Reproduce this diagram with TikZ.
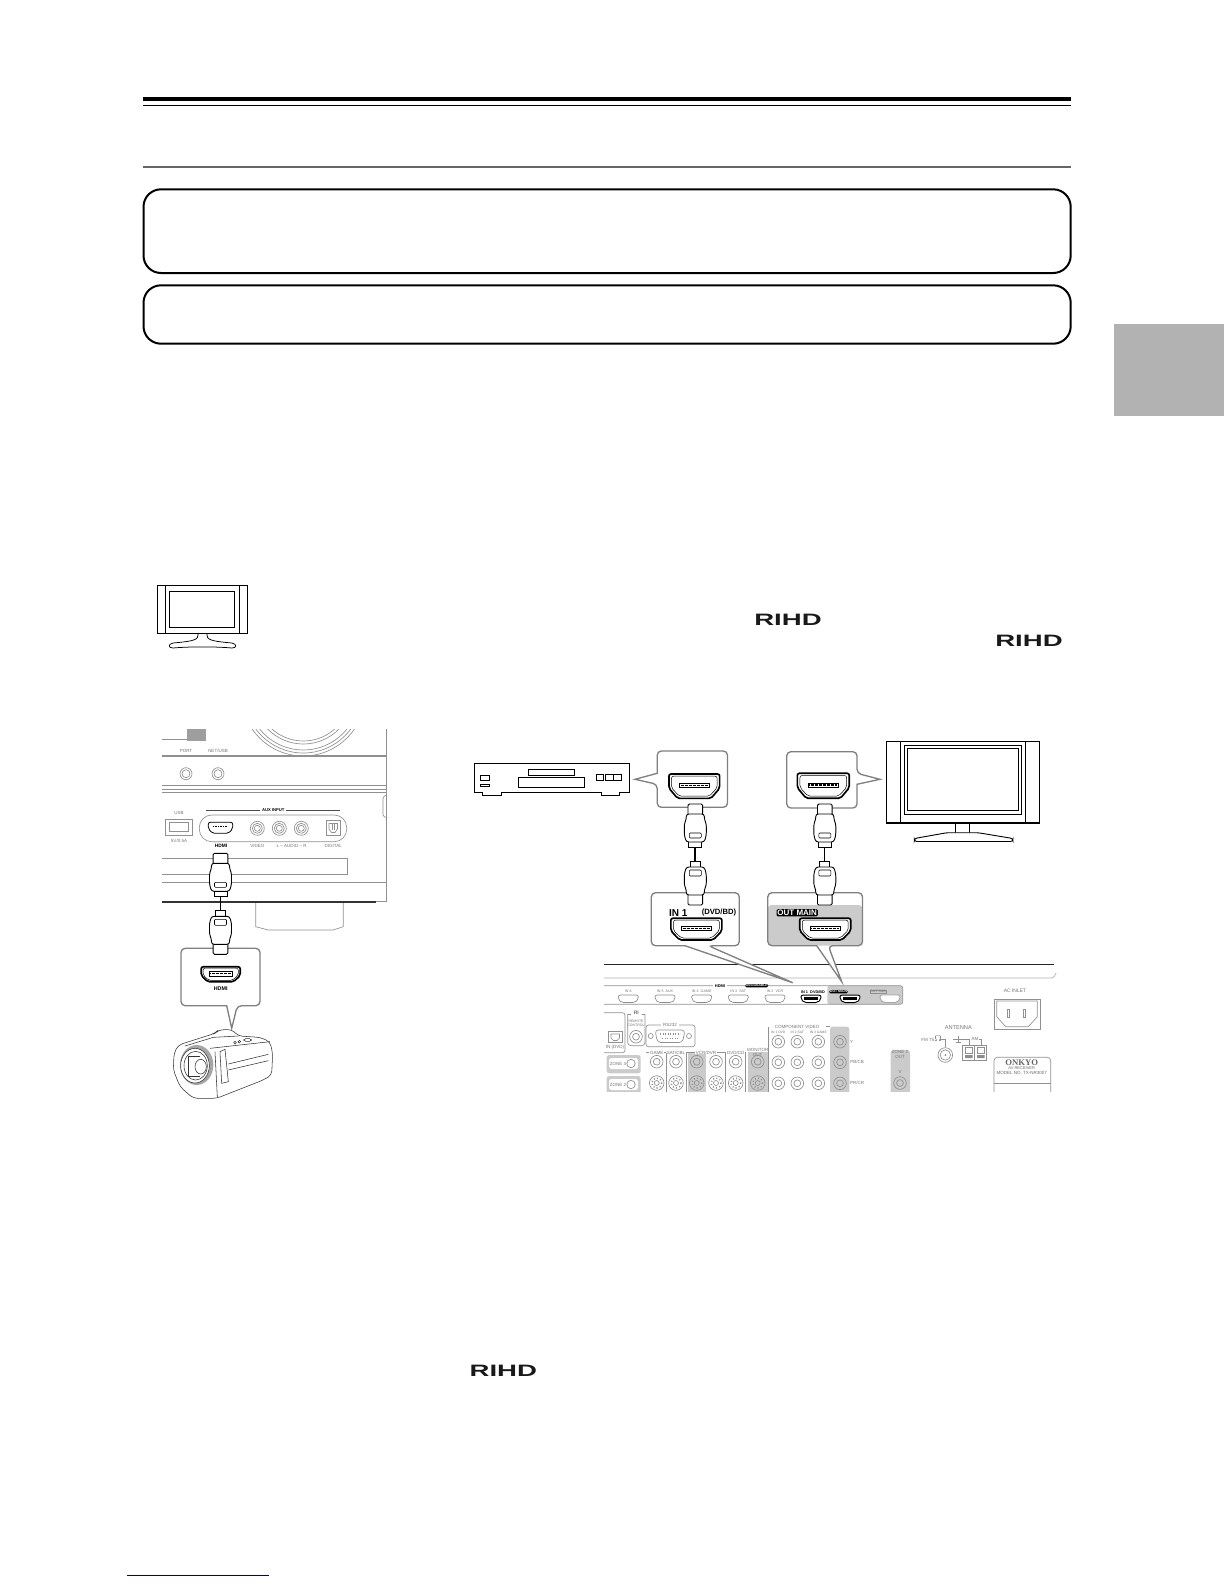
\documentclass[tikz,border=0pt]{standalone}
\usepackage{fontspec}
\setmainfont{Liberation Sans}
\newfontfamily\onkyofont{Liberation Serif}
\usetikzlibrary{positioning}
\definecolor{tabgray}{HTML}{B2B2B2}
\definecolor{rulegray}{HTML}{666666}
\definecolor{boxgray}{HTML}{808080}
\definecolor{panelgray}{HTML}{909090}
\definecolor{shadegray}{HTML}{CBCBCB}
\definecolor{linkblue}{HTML}{000080}
\tikzset{
    framebox/.style = {draw=black,line width=1.2pt,rounded corners=10.5pt},
    callout/.style = {draw=boxgray,line width=.8pt,fill=white},
    device/.style = {draw=black,line width=.55pt,fill=white},
    devicethin/.style = {draw=black,line width=.35pt},
    panel/.style = {draw=panelgray,line width=.4pt},
    paneldark/.style = {draw=black!70,line width=.45pt},
    cameraline/.style = {draw=black!80,line width=.33pt},
    cableline/.style = {draw=black,line width=.55pt,fill=white},
    tinylabel/.style = {inner sep=0pt,text=black!55,font=\fontsize{2.7}{3}\selectfont,align=center},
    darklabel/.style = {inner sep=0pt,text=black,font=\bfseries\fontsize{2.9}{3}\selectfont},
    reversed/.style = {inner sep=.5pt,fill=black,text=white,rounded corners=.8pt,font=\bfseries\fontsize{2.7}{3}\selectfont},
    logotext/.style = {inner sep=0pt,text=black!90,font=\bfseries\fontsize{9.9}{10}\selectfont}
}
\newcommand{\rihdtext}{\scalebox{1.67}[1]{RIHD}}
% socket outline, centred at #1,#2, #3 wide and #4 high
\newcommand{\portshape}[5]{\draw[#5,rounded corners=1.2pt,shift={(#1,#2)},xscale=#3,yscale=#4] (-.5,-.5) -- (.5,-.5) -- (.5,.08) -- (.33,.5) -- (-.33,.5) -- (-.5,.08) -- cycle;}
\newcommand{\hdmisocket}[4]{%
\portshape{#1}{#2}{#3}{#4}{draw=black,line width=1pt,fill=white}
\portshape{#1}{#2}{#3*.9}{#4*.82}{draw=black,line width=.3pt}
\draw[line width=.3pt] (#1-.29*#3,#2-2.9) rectangle (#1+.29*#3,#2+1.5);
\draw[line width=.9pt,dash pattern=on .3pt off .5pt] (#1-.27*#3,#2-.7) -- (#1+.27*#3,#2-.7);
}
% plug, cord and plug, from the top of the upper plug
\newcommand{\hdmicable}[3]{%
\begin{scope}[shift={(#1,#2)}]
\draw[line width=#3] (0,43) -- (0,57);
\draw[cableline,rounded corners=.8pt] (-7.3,11) -- (-7.3,0) -- (7.3,0) -- (7.3,11);
\draw[cableline] (-6.5,36) rectangle (6.5,43);
\draw[cableline,rounded corners=1.5pt] (-9,10) -- (-9,15) -- (-11,20) -- (-11,31) -- (-9,38) -- (9,38) -- (11,31) -- (11,20) -- (9,15) -- (9,10) -- cycle;
\draw[cableline,line width=.35pt,rounded corners=.6pt] (-6,29) rectangle (6,34);
\draw[cableline,rounded corners=.8pt] (-7.3,90) -- (-7.3,101) -- (7.3,101) -- (7.3,90);
\draw[cableline] (-5,57) rectangle (5,64);
\draw[cableline,rounded corners=1.5pt] (-9,63) -- (-11,70) -- (-11,81) -- (-9,86) -- (-9,91) -- (9,91) -- (9,86) -- (11,81) -- (11,70) -- (9,63) -- cycle;
\draw[cableline,line width=.35pt,rounded corners=.6pt] (-6,66) rectangle (6,72);
\end{scope}
}
\newcommand{\rearjack}[2]{\draw[panel] (#1,#2) circle (6.3) (#1,#2) circle (3.4);}
\begin{document}
\begin{tikzpicture}[x=.6pt,y=-.6pt]
\useasboundingbox (0,0) rectangle (1224,1584);
% page rules, frames and tab
\fill[black] (143,97) rectangle (1071,101);
\draw[line width=.6pt] (143,105.3) -- (1071,105.3);
\draw[rulegray,line width=1.1pt] (143,166.7) -- (1071,166.7);
\draw[framebox] (143.5,189.3) rectangle (1070.7,273);
\draw[framebox] (143.5,285.3) rectangle (1070.7,343.7);
\fill[tabgray] (1114,324) rectangle (1224,415.7);
\draw[linkblue,line width=.6pt] (127,1575.3) -- (269,1575.3);
% small screen
\draw[devicethin,line width=.45pt] (157.3,585.3) rectangle (247,633.3);
\draw[devicethin,line width=.45pt] (165.3,585.3) -- (165.3,633.3) (239.3,585.3) -- (239.3,633.3);
\draw[devicethin,line width=.45pt] (169.3,591.7) rectangle (234.3,627.3);
\draw[devicethin,line width=.45pt] (198.3,633.3) .. controls (198.3,640) and (195,641) .. (173,643) .. controls (168,644) and (168,648) .. (173,648) .. controls (190,646.5) and (215,646.5) .. (232,648) .. controls (237,648) and (237,644) .. (232,643) .. controls (210,641) and (206.7,640) .. (206.7,633.3);
% logos
\node[logotext] at (788,620) (logoa) {\rihdtext};
\node[logotext] at (1029,641) (logob) {\rihdtext};
\node[logotext] at (503.3,1371.2) (logoc) {\rihdtext};
% front of the receiver
\begin{scope}
\clip (230,729) rectangle (380,756);
\foreach \r in {62,59,56,50,47} {\draw[panel] (303.3,694) circle (\r);}
\end{scope}
\draw[panel,line width=.8pt] (162,739.3) -- (187,739.3);
\fill[black!38] (187.3,729.3) rectangle (206,740.7);
\draw[panel] (386.7,729) -- (386.7,901.7);
\draw[panel,line width=.8pt] (162,756) -- (386.7,756);
\node[tinylabel] at (186,751) (portlabel) {PORT};
\node[tinylabel] at (218,751) (netlabel) {NET/USB};
\foreach \px in {186,218} {\draw[panel] (\px,773.7) circle (6) (\px,773.7) circle (4);}
\foreach \py in {785.7,789.3,792.7} {\draw[panel] (162,\py) -- (386.7,\py);}
\draw[panel] (386.7,795) -- (384.5,796) -- (383,798) -- (383,815) -- (384.5,817) -- (386.7,817.5);
\draw[paneldark] (206,810) -- (340,810);
\node[darklabel,fill=white,inner xsep=1pt,font=\bfseries\fontsize{2.5}{3}\selectfont] at (273.3,810) (auxlabel) {AUX INPUT};
\node[tinylabel] at (179,813) (usblabel) {USB};
\node[tinylabel] at (179,840.7) (usbpower) {5V/0.5A};
\draw[panel] (165,819.3) rectangle (192.3,835);
\draw[panel] (169.3,822.7) rectangle (188.3,831.7);
\draw[panel,rounded corners=7.5pt] (199.3,815) rectangle (346.7,841.7);
\portshape{220.5}{827.8}{24.4}{11}{draw=black,line width=.5pt,fill=white}
\draw[line width=.8pt,dash pattern=on .5pt off .5pt] (213,826.5) -- (228,826.5);
\foreach \px in {257.3,279.3,301.3} {\draw[panel] (\px,828.3) circle (7) (\px,828.3) circle (5) (\px,828.3) circle (3);}
\draw[panel] (326,820.7) rectangle (340.7,835);
\draw[panel] (329,823.5) -- (337.5,823.5) -- (337.5,829) -- (335,832.5) -- (331.5,832.5) -- (329,829) -- cycle;
\draw[panel] (332,824) -- (332,830) (334.5,824) -- (334.5,830);
\node[darklabel] at (221,846.3) (hdmilabel) {HDMI};
\node[tinylabel] at (257.3,846.3) (videolabel) {VIDEO};
\node[tinylabel] at (291.7,846.3) (audiolabel) {L -- AUDIO -- R};
\node[tinylabel] at (333.3,846.3) (digitallabel) {DIGITAL};
\draw[panel] (162,858.3) -- (347.7,858.3) -- (347.7,874.3) -- (162,874.3);
\draw[panel] (162,882.3) -- (386.7,882.3);
\draw[panel] (255.7,901.7) -- (255.7,926.7) -- (268.3,930) -- (333,930) -- (343.3,926.7) -- (343.3,901.7);
\draw[panel] (375.7,901.7) -- (386.7,901.7);
\draw[black!80,line width=1.1pt] (162,901.7) -- (375.7,901.7);
% camera side
\draw[callout,rounded corners=2.5pt] (181,948.3) -- (260,948.3) -- (260,1005.7) -- (237.3,1005.7) [sharp corners] -- (231.7,1028.3) -- (226.7,1005.7) [rounded corners=2.5pt] -- (181,1005.7) -- cycle;
\hdmisocket{220.7}{974.3}{39}{15}
\node[darklabel,font=\bfseries\fontsize{3.2}{3.5}\selectfont] at (220.7,988.7) (camhdmi) {HDMI};
\hdmicable{220.5}{853.3}{1.1pt}
% camera
\begin{scope}[shift={(160,1020)},x=.2pt,y=-.2pt]
\draw[cameraline,fill=white,rounded corners=2.5pt] (55,75) -- (165,40) -- (175,30) -- (215,28) -- (235,48) -- (300,52) -- (330,65) -- (338,100) -- (335,165) -- (310,180) -- (195,225) -- (170,235) -- (100,235) -- (60,200) -- (40,150) -- (42,100) -- cycle;
\draw[cameraline] (160,52) -- (235,48) (75,78) -- (160,52) (150,85) -- (330,65) (165,95) -- (172,232);
\draw[cameraline] (180,95) -- (195,88) -- (205,185) -- (185,190) -- cycle;
\draw[cameraline] (205,132) -- (325,103) (205,150) -- (325,122);
\draw[cameraline] (225,68) circle (4) (238,65) circle (4);
\draw[cameraline,rounded corners=1pt] (252,56) rectangle (274,64);
\fill[black!35] (110,135) ellipse (50 and 60);
\draw[cameraline,fill=white] (105,137) ellipse (43 and 52);
\draw[cameraline] (107,137) ellipse (35 and 43);
\draw[cameraline] (84,110) -- (120,110) (84,170) -- (120,170) (84,110) -- (84,170);
\draw[cameraline,fill=white] (122,140) ellipse (17 and 22);
\end{scope}
% disc player
\draw[device,line width=.75pt] (474.8,763.3) rectangle (629.4,792.3);
\draw[device] (482.2,792.3) -- (482.2,795.3) -- (501.4,795.3) -- (501.4,792.3);
\draw[device] (601.3,792.3) -- (601.3,795.3) -- (619.8,795.3) -- (619.8,792.3);
\draw[devicethin] (480.3,775) rectangle (489.6,780);
\draw[devicethin] (480.3,784) rectangle (489.6,786.7);
\draw[devicethin] (528.4,769.3) rectangle (574.7,775);
\draw[devicethin] (518.5,777.3) rectangle (584.7,787.7);
\draw[devicethin] (595.8,774.3) rectangle (603.2,780);
\draw[devicethin] (605.4,774.3) rectangle (621.7,780);
\draw[devicethin] (613.5,774.3) -- (613.5,780);
\draw[callout,rounded corners=2.5pt] (692,751) -- (727.5,751) -- (727.5,807.3) -- (657.2,807.3) -- (657.2,784.3) [sharp corners] -- (635,779.3) -- (657.2,773.3) [rounded corners=2.5pt] -- (657.2,751) -- cycle;
\hdmisocket{694.3}{786.2}{50.7}{24.3}
% television
\draw[device] (886.6,741.7) rectangle (1039.4,823);
\draw[black,line width=.9pt] (886.6,823) -- (1039.4,823);
\draw[devicethin,line width=.45pt] (900.3,741.7) -- (900.3,823) (1025.3,741.7) -- (1025.3,823);
\draw[devicethin,line width=.45pt] (904.7,745) rectangle (1021.6,814);
\draw[devicethin,line width=.45pt] (907.7,748.3) rectangle (1018.6,810.7);
\draw[devicethin,line width=.5pt] (955.8,823) -- (955.8,832.7) (969.4,823) -- (969.4,832.7);
\draw[device,rounded corners=1.5pt] (947,832.7) -- (978,832.7) -- (1013,838.5) -- (1013,841.5) -- (914.3,841.5) -- (914.3,838.5) -- cycle;
\draw[callout,rounded corners=2.5pt] (786.7,751.7) -- (857,751.7) -- (857,773.3) [sharp corners] -- (879.9,779.3) -- (857,784.3) [rounded corners=2.5pt] -- (857,808) -- (786.7,808) -- cycle;
\hdmisocket{823.3}{785.8}{51.8}{25}
% rear edge of the receiver
\draw[black!85,line width=.6pt] (604,964.3) -- (1054,964.3);
\draw[black!30,line width=.4pt] (604,978) -- (1052,978) .. controls (1054,978) and (1055,975) .. (1056,973);
% input callout
\draw[callout,rounded corners=2.5pt] (651.3,892.7) -- (739.3,892.7) -- (739.3,945.7) -- (708.3,945.7) [sharp corners] -- (792.7,982.7) -- (685,945.7) [rounded corners=2.5pt] -- (651.3,945.7) -- cycle;
\node[inner sep=0pt,font=\bfseries\fontsize{6}{7}\selectfont] at (678.3,912.7) (inlabel) {IN 1};
\node[inner sep=0pt,font=\bfseries\fontsize{4.6}{5}\selectfont] at (719,912.7) (dvdlabel) {(DVD/BD)};
\hdmisocket{696.4}{929.1}{51}{21.7}
% output callout
\fill[white] (767.8,892.7) -- (862.5,892.7) -- (862.5,945.7) -- (828.3,945.7) -- (841.7,981.7) -- (816.7,945.7) -- (767.8,945.7) -- cycle;
\fill[shadegray,rounded corners=2pt] (768,905) rectangle (862.3,945.5);
\draw[callout,fill=none,rounded corners=2.5pt] (767.8,892.7) -- (862.5,892.7) -- (862.5,945.7) -- (828.3,945.7) [sharp corners] -- (841.7,981.7) -- (816.7,945.7) [rounded corners=2.5pt] -- (767.8,945.7) -- cycle;
\node[reversed,font=\bfseries\fontsize{4.8}{5}\selectfont] at (797.2,912.8) (outlabel) {OUT MAIN};
\hdmisocket{825.2}{929.1}{51}{21.7}
\hdmicable{695.3}{804}{1.1pt}
\hdmicable{824.8}{804}{.8pt}
% HDMI strip
\fill[shadegray,rounded corners=1.5pt] (827.3,985.7) rectangle (902.7,1004.3);
\draw[panel,rounded corners=1.5pt] (604,985.7) -- (902.7,985.7) -- (902.7,1004.3) -- (604,1004.3);
\node[darklabel,fill=white,inner xsep=1pt,font=\bfseries\fontsize{2.4}{3}\selectfont] at (720,985.7) (striphdmi) {HDMI};
\node[reversed,inner sep=.3pt,font=\bfseries\fontsize{2}{3}\selectfont] at (756.7,985.7) (stripassign) {ASSIGNABLE};
\foreach \px/\ptxt/\pname in {628.3/IN 6/a,665/IN 5\ \ AUX/b,701.7/IN 4\ \ GAME/c,738.3/IN 3\ \ SAT/d,775/IN 2\ \ VCR/e} {
\portshape{\px}{998.8}{20}{7.5}{draw=black!45,line width=.4pt,fill=white}
\node[tinylabel,font=\fontsize{2.2}{3}\selectfont] at (\px,991.7) (strip\pname) {\ptxt};
}
\node[darklabel,font=\bfseries\fontsize{2.3}{3}\selectfont] at (813,991.7) (stripin) {IN 1\ \ DVD/BD};
\node[reversed,inner sep=.3pt,font=\bfseries\fontsize{2.1}{3}\selectfont] at (838.5,991.7) (stripout) {OUT MAIN};
\node[tinylabel,font=\fontsize{2.1}{3}\selectfont,draw=panelgray,line width=.2pt,inner sep=.3pt,text=black!55] at (878,991.7) (stripsub) {OUT SUB};
\foreach \px in {811,850} {
\portshape{\px}{998.8}{20}{7.5}{draw=black,line width=.55pt,fill=white}
\fill[black] (\px-7,997) rectangle (\px+7,1000);
}
\portshape{890}{998.8}{20}{7.5}{draw=black!35,line width=.5pt,fill=white}
% mains inlet
\node[tinylabel,font=\fontsize{3}{3.5}\selectfont] at (1015,990.7) (aclabel) {AC INLET};
\draw[panel,line width=.5pt] (994,999.3) rectangle (1040,1029.3);
\draw[panel] (996.7,1001) -- (1037.3,1001) -- (1037.3,1016.7) -- (1028.3,1026.7) -- (1005.7,1026.7) -- (996.7,1016.7) -- cycle;
\draw[panel] (1007,1009.3) rectangle (1009,1017.3) (1023,1009.3) rectangle (1025,1017.3);
% rear connectors
\begin{scope}
\clip (604,1005) rectangle (1060,1091.7);
\fill[shadegray,rounded corners=1.5pt] (606.7,1055) rectangle (640.7,1073.3);
\fill[shadegray,rounded corners=1.5pt] (606.7,1076) rectangle (640.7,1095);
\fill[shadegray] (687.7,1052) rectangle (706,1095);
\fill[shadegray] (748.3,1052) rectangle (767.7,1095);
\fill[shadegray,rounded corners=1.5pt] (830,1026.7) rectangle (849.3,1095);
\fill[shadegray,rounded corners=1.5pt] (890.7,1050) rectangle (910,1095);
\fill[white,rounded corners=1.5pt] (609,1058) rectangle (638,1069);
\fill[white,rounded corners=1.5pt] (609,1079) rectangle (638,1090);
\draw[panel,rounded corners=1.5pt] (604,1012.7) -- (625,1012.7) -- (625,1052.7) -- (604,1052.7);
\draw[panel] (608.3,1031.7) rectangle (622.3,1042.3);
\draw[panel] (611,1034) -- (619.5,1034) -- (619.5,1038) -- (617,1040.5) -- (613.5,1040.5) -- (611,1038) -- cycle;
\node[tinylabel] at (615,1047) (optlabel) {IN (DVD)};
\draw[panel,rounded corners=2pt] (627.7,1014) -- (627.7,1045.7) -- (645,1045.7) -- (645,1014);
\draw[panel] (627.7,1014) -- (631,1014) (641.5,1014) -- (645,1014);
\node[tinylabel,font=\bfseries\fontsize{3}{3}\selectfont] at (636.3,1013) (rilabel) {RI};
\node[tinylabel,font=\fontsize{2.1}{2.4}\selectfont] at (636,1023) (rilabelb) {REMOTE\\CONTROL};
\rearjack{636}{1036.7}
\draw[panel,rounded corners=1.5pt] (646,1025) rectangle (695,1046.7);
\node[tinylabel,fill=white,inner xsep=1pt] at (670,1025) (rslabel) {RS232};
\draw[panel,rounded corners=2pt] (655,1030) -- (685,1030) -- (682.5,1042.5) -- (657.5,1042.5) -- cycle;
\draw[panel,line width=.9pt,dash pattern=on .5pt off 1pt] (660,1034) -- (680,1034) (662,1038.5) -- (678,1038.5);
\draw[panel] (650.7,1036) circle (2.5) (689,1036) circle (2.5);
\draw[panel] (646,1052.5) -- (746,1052.5);
\node[tinylabel,fill=white,inner xsep=.5pt] at (656.7,1052.5) (gamelabel) {GAME};
\node[tinylabel,fill=white,inner xsep=.5pt] at (676,1052.5) (satlabel) {SAT/CBL};
\node[tinylabel,fill=white,inner xsep=.5pt] at (706,1052.5) (vcrlabel) {VCR/DVR};
\node[tinylabel,fill=white,inner xsep=.5pt] at (735.7,1052.5) (dvdjacks) {DVD/CD};
\node[tinylabel] at (757.7,1052) (monlabel) {MONITOR\\OUT};
\foreach \px in {666.3,686,725,745} {\draw[panel] (\px,1052.5) -- (\px,1095);}
\foreach \px in {656.7,676,696.7,716,735.7,757.7} {
\rearjack{\px}{1061.7}
\draw[panel] (\px,1083) circle (7.3) (\px,1083) circle (2.5);
\draw[panel,line width=.9pt,dash pattern=on .6pt off 1.4pt] (\px,1083) circle (5);
}
\node[tinylabel] at (618,1063.5) (zonea) {ZONE 3};
\node[tinylabel] at (618,1084.5) (zoneb) {ZONE 2};
\draw[panel] (631,1063.5) circle (4.2) (631,1084.5) circle (4.2);
\draw[panel,rounded corners=1.5pt] (768,1026.7) -- (768,1095) (826,1026.7) -- (830,1026.7);
\node[tinylabel,fill=white,inner xsep=.5pt] at (797,1026.7) (complabel) {COMPONENT VIDEO};
\node[tinylabel,font=\fontsize{2}{2.5}\selectfont] at (778.3,1032.7) (compa) {IN 1 DVD};
\node[tinylabel,font=\fontsize{2}{2.5}\selectfont] at (797.3,1032.7) (compb) {IN 2 SAT};
\node[tinylabel,font=\fontsize{2}{2.5}\selectfont] at (818.3,1032.7) (compc) {IN 3 GAME};
\foreach \py in {1041.7,1062.3,1083.3} {
\foreach \px in {778.3,797.3,818.3,840} {\rearjack{\px}{\py}}
}
\node[tinylabel] at (851.5,1041.7) (jacky) {Y};
\node[tinylabel] at (857,1062.3) (jackb) {PB/CB};
\node[tinylabel] at (857,1083.3) (jackr) {PR/CR};
\node[tinylabel] at (900,1054) (zoneout) {ZONE 2\\OUT};
\node[tinylabel] at (900,1072) (zonev) {V};
\rearjack{900}{1083}
\node[tinylabel,font=\fontsize{3.4}{4}\selectfont] at (958.3,1027.7) (antlabel) {ANTENNA};
\node[tinylabel] at (931.7,1039) (fmlabel) {FM 75$\Omega$};
\node[tinylabel] at (975,1039) (amlabel) {AM};
\draw[panel] (940,1039) -- (945.3,1039) -- (945.3,1047);
\draw[panel] (945.3,1055) circle (7.3) (945.3,1055) circle (5.2);
\fill[black!60] (945.3,1055) circle (.8);
\draw[panel] (953,1039) -- (969,1039) (958,1036) -- (958,1042.5) (955.5,1042.5) -- (960.5,1042.5) (979,1039) -- (981,1039) -- (981,1045) (969,1039) -- (969,1045);
\draw[panel,line width=.4pt] (962.7,1045) rectangle (986.7,1060.7) (974.7,1045) -- (974.7,1060.7);
\draw[panel] (965,1047.5) rectangle (972.5,1053) (977,1047.5) rectangle (984.5,1053);
\fill[black!45] (965,1055) rectangle (972.5,1058) (977,1055) rectangle (984.5,1058);
\draw[panel,rounded corners=2pt] (994,1095) -- (994,1057.3) -- (1050.7,1057.3) -- (1050.7,1095);
\draw[panel] (994,1083.3) -- (1050.7,1083.3);
\node[tinylabel,text=black!60,font=\onkyofont\bfseries\fontsize{5.2}{6}\selectfont] at (1021.7,1063) (onkyolabel) {ONKYO};
\node[tinylabel,text=black!60,font=\fontsize{2.4}{3}\selectfont] at (1021.7,1068.5) (avlabel) {AV RECEIVER};
\node[tinylabel,text=black!60,font=\fontsize{2.7}{3}\selectfont] at (1021.7,1073.3) (modellabel) {MODEL NO. TX-NR3007};
\end{scope}
\end{tikzpicture}
\end{document}
